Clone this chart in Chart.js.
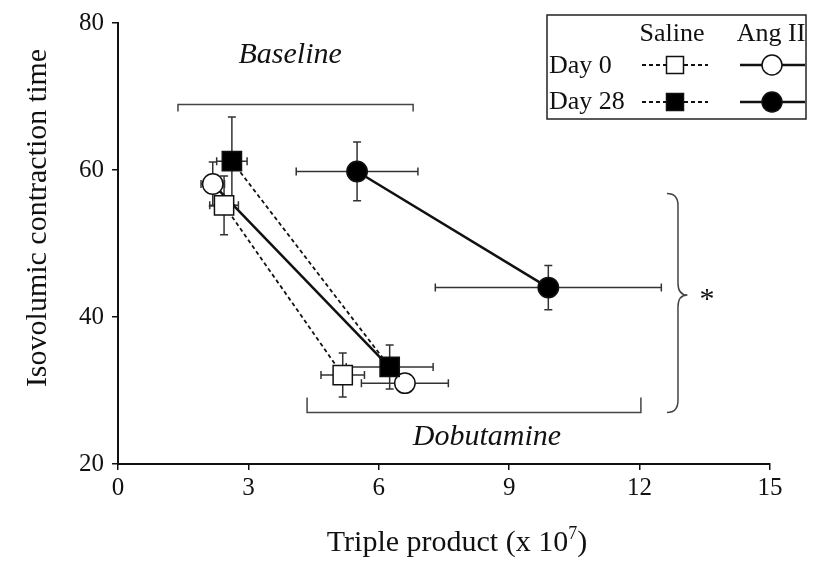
<!DOCTYPE html>
<html>
<head>
<meta charset="utf-8">
<script src="https://cdn.jsdelivr.net/npm/chart.js@4.4.1/dist/chart.umd.min.js"></script>
<style>
  html, body { margin: 0; padding: 0; background: #fff; }
  #wrap { width: 813px; height: 561px; }
</style>
</head>
<body>
<div id="wrap"><canvas id="chart"></canvas></div>
<script>
// data (x = triple product x 10^7, y = IVCT)
const salineDay0X = [2.44, 5.17];
const salineDay0Y = [55.2, 32.1];
const salineDay0XErr = [0.33, 0.5];
const salineDay0YErr = [4, 3];

const salineDay28X = [2.62, 6.25];
const salineDay28Y = [61.2, 33.2];
const salineDay28XErr = [0.35, 1.0];
const salineDay28YErr = [6, 3];

const angDay0X = [2.18, 6.6];
const angDay0Y = [58.1, 31.0];
const angDay0XErr = [0.27, 1.0];
const angDay0YErr = [3, 1];

const angDay28X = [5.5, 9.9];
const angDay28Y = [59.8, 44.0];
const angDay28XErr = [1.4, 2.6];
const angDay28YErr = [4, 3];

const xTicks = [0, 3, 6, 9, 12, 15];
const yTicks = [20, 40, 60, 80];

const serif = "'Liberation Serif', 'Times New Roman', serif";

function pts(xs, ys) {
  return xs.map((x, i) => ({ x: x, y: ys[i] }));
}

const errs = [
  { x: salineDay0XErr, y: salineDay0YErr },
  { x: salineDay28XErr, y: salineDay28YErr },
  { x: angDay0XErr, y: angDay0YErr },
  { x: angDay28XErr, y: angDay28YErr }
];

// error bars, drawn under the markers
const errorBars = {
  id: 'errorBars',
  beforeDatasetsDraw(chart) {
    const ctx = chart.ctx;
    const xs = chart.scales.x, ys = chart.scales.y;
    const cap = 4;
    ctx.save();
    ctx.strokeStyle = '#333';
    ctx.lineWidth = 1.5;
    chart.data.datasets.forEach((ds, di) => {
      ds.data.forEach((p, i) => {
        const px = xs.getPixelForValue(p.x), py = ys.getPixelForValue(p.y);
        const x0 = xs.getPixelForValue(p.x - errs[di].x[i]);
        const x1 = xs.getPixelForValue(p.x + errs[di].x[i]);
        const y0 = ys.getPixelForValue(p.y - errs[di].y[i]);
        const y1 = ys.getPixelForValue(p.y + errs[di].y[i]);
        ctx.beginPath();
        ctx.moveTo(x0, py); ctx.lineTo(x1, py);
        ctx.moveTo(x0, py - cap); ctx.lineTo(x0, py + cap);
        ctx.moveTo(x1, py - cap); ctx.lineTo(x1, py + cap);
        ctx.moveTo(px, y0); ctx.lineTo(px, y1);
        ctx.moveTo(px - cap, y0); ctx.lineTo(px + cap, y0);
        ctx.moveTo(px - cap, y1); ctx.lineTo(px + cap, y1);
        ctx.stroke();
      });
    });
    ctx.restore();
  }
};

// brackets, labels, brace, axis titles and the legend table
const extras = {
  id: 'extras',
  afterDraw(chart) {
    const ctx = chart.ctx;
    const xs = chart.scales.x, ys = chart.scales.y;
    const X = v => xs.getPixelForValue(v), Y = v => ys.getPixelForValue(v);
    ctx.save();
    ctx.strokeStyle = '#444';
    ctx.lineWidth = 1.5;
    ctx.fillStyle = '#111';

    // Baseline bracket
    let y = Y(68.9);
    ctx.beginPath();
    ctx.moveTo(X(1.38), y + 7); ctx.lineTo(X(1.38), y);
    ctx.lineTo(X(6.79), y); ctx.lineTo(X(6.79), y + 7);
    ctx.stroke();
    ctx.font = 'italic 30px ' + serif;
    ctx.textAlign = 'center';
    ctx.textBaseline = 'middle';
    ctx.fillText('Baseline', X(3.96), Y(75.6));

    // Dobutamine bracket
    y = Y(27.0);
    ctx.beginPath();
    ctx.moveTo(X(4.35), y - 15); ctx.lineTo(X(4.35), y);
    ctx.lineTo(X(12.03), y); ctx.lineTo(X(12.03), y - 15);
    ctx.stroke();
    ctx.fillText('Dobutamine', X(8.49), Y(23.6));

    // curly brace + asterisk
    const bx = X(12.63), tip = X(13.1);
    const top = Y(56.8), bot = Y(27.0), mid = Y(43.0);
    const vx = bx + 11;
    ctx.beginPath();
    ctx.moveTo(bx, top);
    ctx.quadraticCurveTo(vx, top, vx, top + 12);
    ctx.lineTo(vx, mid - 12);
    ctx.quadraticCurveTo(vx, mid, tip, mid);
    ctx.quadraticCurveTo(vx, mid, vx, mid + 12);
    ctx.lineTo(vx, bot - 12);
    ctx.quadraticCurveTo(vx, bot, bx, bot);
    ctx.stroke();
    ctx.font = '30px ' + serif;
    ctx.fillText('*', X(13.55), mid + 5);

    // axis titles
    ctx.font = '30px ' + serif;
    const t1 = 'Triple product (x 10';
    const w1 = ctx.measureText(t1).width;
    ctx.font = '18px ' + serif;
    const w2 = ctx.measureText('7').width;
    ctx.font = '30px ' + serif;
    const w3 = ctx.measureText(')').width;
    let tx = 457 - (w1 + w2 + w3) / 2;
    ctx.textAlign = 'left';
    ctx.fillText(t1, tx, 543);
    ctx.font = '18px ' + serif;
    ctx.fillText('7', tx + w1, 534);
    ctx.font = '30px ' + serif;
    ctx.fillText(')', tx + w1 + w2, 543);

    ctx.save();
    ctx.translate(38, 218);
    ctx.rotate(-Math.PI / 2);
    ctx.textAlign = 'center';
    ctx.fillText('Isovolumic contraction time', 0, 0);
    ctx.restore();

    // legend table
    ctx.strokeStyle = '#222';
    ctx.lineWidth = 1.5;
    ctx.strokeRect(547, 15, 259, 104);
    ctx.font = '26px ' + serif;
    ctx.textAlign = 'center';
    ctx.fillText('Saline', 672, 34);
    ctx.fillText('Ang II', 771, 34);
    ctx.textAlign = 'left';
    ctx.fillText('Day 0', 549, 66);
    ctx.fillText('Day 28', 549, 102);
    [65, 102].forEach((ry, r) => {
      ctx.strokeStyle = '#111';
      ctx.lineWidth = 1.8;
      ctx.setLineDash([4, 3]);
      ctx.beginPath();
      ctx.moveTo(642, ry); ctx.lineTo(708, ry);
      ctx.stroke();
      ctx.setLineDash([]);
      ctx.lineWidth = 1.5;
      ctx.fillStyle = r === 0 ? '#fff' : '#000';
      ctx.fillRect(666.5, ry - 8.5, 17, 17);
      ctx.strokeRect(666.5, ry - 8.5, 17, 17);
      ctx.lineWidth = 2.5;
      ctx.beginPath();
      ctx.moveTo(740, ry); ctx.lineTo(805, ry);
      ctx.stroke();
      ctx.lineWidth = 1.5;
      ctx.beginPath();
      ctx.arc(772, ry, 10, 0, Math.PI * 2);
      ctx.fill();
      ctx.stroke();
      ctx.fillStyle = '#111';
    });
    ctx.restore();
  }
};

const squareStyle = {
  showLine: true,
  borderColor: '#111',
  borderWidth: 1.8,
  borderDash: [4, 3],
  pointStyle: 'rect',
  pointRadius: 13.6,
  pointBorderColor: '#111',
  pointBorderWidth: 1.5
};
const circleStyle = {
  showLine: true,
  borderColor: '#111',
  borderWidth: 2.5,
  pointStyle: 'circle',
  pointRadius: 10.2,
  pointBorderColor: '#111',
  pointBorderWidth: 1.5
};

new Chart(document.getElementById('chart'), {
  type: 'scatter',
  data: {
    datasets: [
      Object.assign({ label: 'Saline Day 0', data: pts(salineDay0X, salineDay0Y), pointBackgroundColor: '#fff' }, squareStyle),
      Object.assign({ label: 'Saline Day 28', data: pts(salineDay28X, salineDay28Y), pointBackgroundColor: '#000' }, squareStyle),
      Object.assign({ label: 'Ang II Day 0', data: pts(angDay0X, angDay0Y), pointBackgroundColor: '#fff' }, circleStyle),
      Object.assign({ label: 'Ang II Day 28', data: pts(angDay28X, angDay28Y), pointBackgroundColor: '#000' }, circleStyle)
    ]
  },
  options: {
    responsive: true,
    maintainAspectRatio: false,
    animation: false,
    events: [],
    layout: { padding: { top: 17, right: 43, left: 0, bottom: 0 } },
    scales: {
      x: {
        type: 'linear',
        min: 0, max: 15,
        afterBuildTicks: s => { s.ticks = xTicks.map(v => ({ value: v })); },
        afterFit: s => { s.height = 97; },
        ticks: { font: { family: serif, size: 25 }, color: '#111', padding: 3 },
        grid: { display: true, drawOnChartArea: false, tickLength: 6, color: '#111', lineWidth: 1.5 },
        border: { color: '#111', width: 2 }
      },
      y: {
        type: 'linear',
        min: 20, max: 80,
        afterBuildTicks: s => { s.ticks = yTicks.map(v => ({ value: v })); },
        afterFit: s => { s.width = 118; },
        ticks: { font: { family: serif, size: 25 }, color: '#111', padding: 8 },
        grid: { display: true, drawOnChartArea: false, tickLength: 6, color: '#111', lineWidth: 1.5 },
        border: { color: '#111', width: 2 }
      }
    },
    plugins: {
      legend: { display: false },
      tooltip: { enabled: false }
    }
  },
  plugins: [errorBars, extras]
});
</script>
</body>
</html>
